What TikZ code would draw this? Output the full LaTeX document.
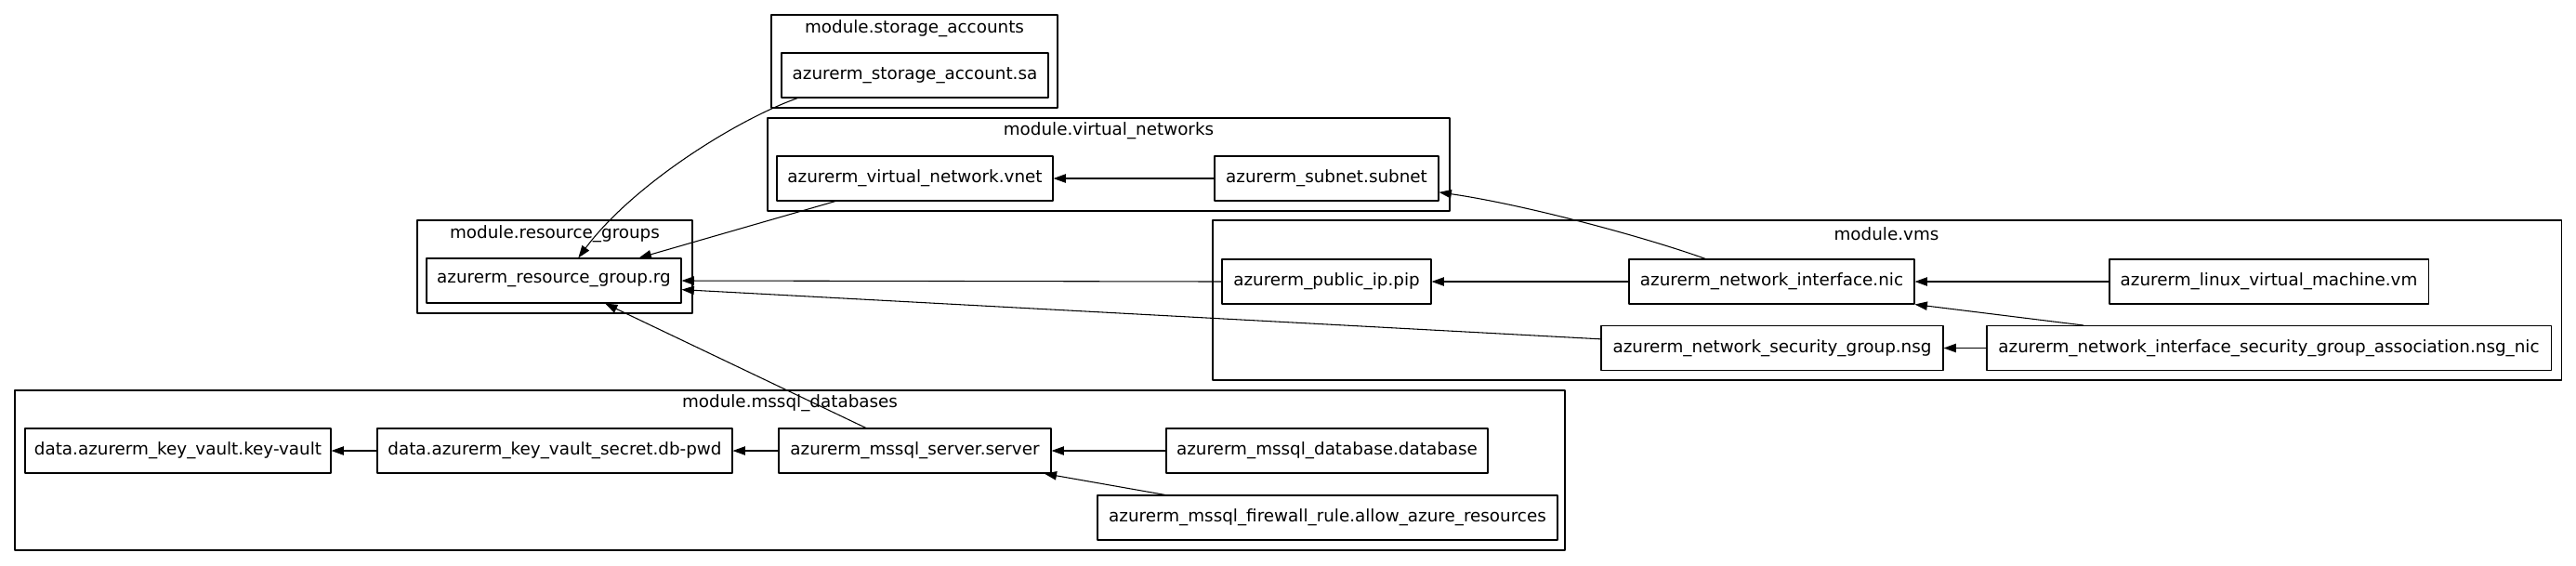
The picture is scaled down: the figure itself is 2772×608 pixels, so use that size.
\documentclass[tikz,border=0pt]{standalone}
\usepackage{fontspec}
\setmainfont{DejaVu Sans}
\usetikzlibrary{arrows.meta}
\begin{document}
\begin{tikzpicture}[line cap=round,line join=round,>={Triangle[length=10pt,width=7pt]},x=0.75pt,y=-0.75pt,
	res/.style={draw,line width=0.8pt,minimum height=36pt,inner xsep=3pt,inner ysep=0pt,font=\fontsize{13.75}{16}\selectfont},
	grp/.style={draw,line width=0.8pt},
	grplabel/.style={inner sep=0pt,font=\fontsize{13.75}{16}\selectfont},
	dep/.style={->,line width=0.8pt}]
	\useasboundingbox (0,0) rectangle (2772,608);
	\draw [grp] (830,16) rectangle (1138,116);
	\node [grplabel] (lblstorage) at (984,31) {module.storage\_accounts};
	\draw [grp] (826,127) rectangle (1560,227);
	\node [grplabel] (lblvnets) at (1193,141) {module.virtual\_networks};
	\draw [grp] (449,237) rectangle (745,337);
	\node [grplabel] (lblrgs) at (597,252) {module.resource\_groups};
	\draw [grp] (1305,237) rectangle (2756,409);
	\node [grplabel] (lblvms) at (2030,252) {module.vms};
	\draw [grp] (16,420) rectangle (1684,592);
	\node [grplabel] (lblmssql) at (850,434) {module.mssql\_databases};
	\node [res,minimum width=215.25pt] (sa) at (984.5,81) {azurerm\_storage\_account.sa};
	\node [res,minimum width=222.75pt] (vnet) at (984.5,192) {azurerm\_virtual\_network.vnet};
	\node [res,minimum width=180.75pt] (subnet) at (1427.5,192) {azurerm\_subnet.subnet};
	\node [res,minimum width=205.5pt] (rg) at (596,302) {azurerm\_resource\_group.rg};
	\node [res,minimum width=168.75pt] (pip) at (1427.5,303) {azurerm\_public\_ip.pip};
	\node [res,minimum width=230.25pt] (nic) at (1906.5,303) {azurerm\_network\_interface.nic};
	\node [res,minimum width=257.25pt] (vm) at (2441.5,303) {azurerm\_linux\_virtual\_machine.vm};
	\node [res,minimum width=276pt] (nsg) at (1907,374.5) {azurerm\_network\_security\_group.nsg};
	\node [res,minimum width=455.25pt] (nsgnic) at (2441.5,374.5) {azurerm\_network\_interface\_security\_group\_association.nsg\_nic};
	\node [res,minimum width=246.75pt] (keyvault) at (191.5,485) {data.azurerm\_key\_vault.key-vault};
	\node [res,minimum width=286.5pt] (dbpwd) at (597,485) {data.azurerm\_key\_vault\_secret.db-pwd};
	\node [res,minimum width=219.75pt] (server) at (984.5,485) {azurerm\_mssql\_server.server};
	\node [res,minimum width=259.5pt] (database) at (1428,485) {azurerm\_mssql\_database.database};
	\node [res,minimum width=371.25pt] (firewall) at (1428.5,557) {azurerm\_mssql\_firewall\_rule.allow\_azure\_resources};
	\draw [dep] (sa.191) .. controls (790,130) and (680,200) .. (rg.43);
	\draw [dep] (vnet.196) -- (rg.15);
	\draw [dep] (subnet.west) -- (vnet.east);
	\draw [dep] (nic.161) .. controls (1770,255) and (1640,220) .. (subnet.353);
	\draw [dep] (pip.west) -- (rg.east);
	\draw [dep] (nsg.177) -- (rg.356);
	\draw [dep] (nic.west) -- (pip.east);
	\draw [dep] (vm.west) -- (nic.east);
	\draw [dep] (nsgnic.173) -- (nic.south east);
	\draw [dep] (nsgnic.west) -- (nsg.east);
	\draw [dep] (server.155) -- (rg.336);
	\draw [dep] (dbpwd.west) -- (keyvault.east);
	\draw [dep] (server.west) -- (dbpwd.east);
	\draw [dep] (database.west) -- (server.east);
	\draw [dep] (firewall.172) -- (server.350);
\end{tikzpicture}
\end{document}
